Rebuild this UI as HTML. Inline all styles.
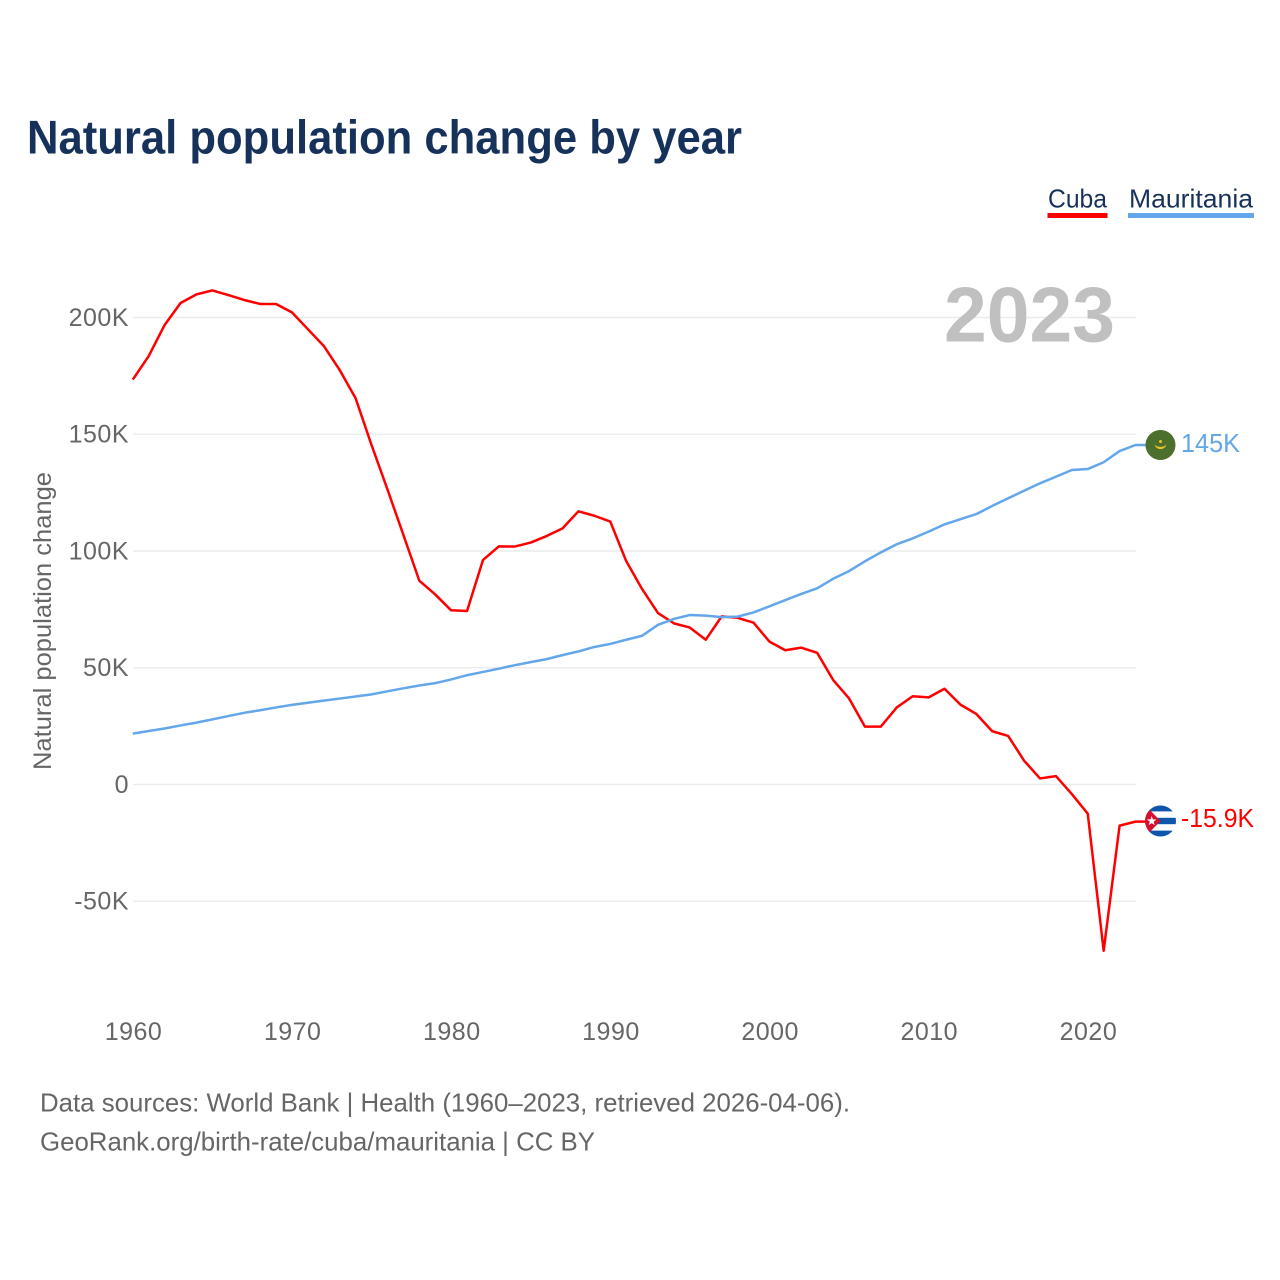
<!DOCTYPE html>
<html lang="en">
<head>
<meta charset="utf-8">
<title>Natural population change by year</title>
<style>
html,body{margin:0;padding:0;background:#fff;}
#chart{display:block;width:1280px;height:1280px;}
text{font-family:"Liberation Sans",sans-serif;}
</style>
</head>
<body>
<svg id="chart" xmlns="http://www.w3.org/2000/svg" width="1280" height="1280" viewBox="0 0 1280 1280">
  <rect x="0" y="0" width="1280" height="1280" fill="#ffffff"/>
  <text x="27" y="153.5" font-size="47" font-weight="700" fill="#17325a" textLength="715" lengthAdjust="spacingAndGlyphs">Natural population change by year</text>

  <g>
    <text x="1048" y="207.5" font-size="26" fill="#17325a" textLength="59" lengthAdjust="spacingAndGlyphs">Cuba</text>
    <rect x="1047.5" y="213" width="60" height="5" fill="#ff0000"/>
  </g>
  <g>
    <text x="1129" y="207.5" font-size="26" fill="#17325a" textLength="124" lengthAdjust="spacingAndGlyphs">Mauritania</text>
    <rect x="1128" y="213" width="126" height="5" fill="#63a6ea"/>
  </g>

  <g id="grid"></g>
  <g id="yticks"></g>
  <g id="xticks"></g>

  <text x="944" y="341.5" font-size="78" font-weight="700" fill="#c0c0c0" textLength="171" lengthAdjust="spacingAndGlyphs">2023</text>

  <text transform="translate(51 770) rotate(-90)" x="0" y="0" font-size="25" fill="#666666" textLength="298" lengthAdjust="spacingAndGlyphs">Natural population change</text>

  <g id="series"></g>

  <defs>
    <clipPath id="flag-clip-mr"><circle cx="1160.5" cy="445" r="15"/></clipPath>
    <clipPath id="flag-clip-cu"><circle cx="1160.5" cy="821" r="15.5"/></clipPath>
  </defs>

  <g clip-path="url(#flag-clip-mr)">
    <rect x="1145" y="430" width="31" height="30" fill="#4d6f2e"/>
    <path d="M1154.5 444.5 A6.2 6.2 0 0 0 1166.5 444.5 A7 5 0 0 1 1154.5 444.5 Z" fill="#e8c42c"/>
    <circle cx="1160.5" cy="441.5" r="1.5" fill="#e8c42c"/>
  </g>
  <g clip-path="url(#flag-clip-cu)">
    <rect x="1145" y="805" width="31" height="32" fill="#ffffff"/>
    <rect x="1145" y="805" width="31" height="6.4" fill="#0f55aa"/>
    <rect x="1145" y="817.8" width="31" height="6.4" fill="#0f55aa"/>
    <rect x="1145" y="830.6" width="31" height="6.4" fill="#0f55aa"/>
    <path d="M1145 805 L1160.5 821 L1145 837 Z" fill="#d5102f"/>
    <polygon points="1151.7,816 1152.9,819.4 1156.5,819.5 1153.6,821.7 1154.7,825.1 1151.7,823.1 1148.7,825.1 1149.8,821.7 1146.9,819.5 1150.5,819.4" fill="#ffffff"/>
  </g>

  <text x="1181" y="452" font-size="25.5" fill="#63a6ea" textLength="59" lengthAdjust="spacingAndGlyphs">145K</text>
  <text x="1181" y="827" font-size="25.5" fill="#ff0000" textLength="73" lengthAdjust="spacingAndGlyphs">-15.9K</text>

  <text x="40" y="1111.5" font-size="26" fill="#666666" textLength="810" lengthAdjust="spacingAndGlyphs">Data sources: World Bank | Health (1960–2023, retrieved 2026-04-06).</text>
  <text x="40" y="1150.5" font-size="26" fill="#666666" textLength="555" lengthAdjust="spacingAndGlyphs">GeoRank.org/birth-rate/cuba/mauritania | CC BY</text>
</svg>

<script>
const firstYear = 1960;
const cubaValues = [173.4,183.5,196.8,206.2,209.9,211.6,209.6,207.5,205.8,205.8,202.2,195,187.8,177.5,165.4,145.4,126.4,106.9,87.3,81.4,74.6,74.3,96.1,102,101.9,103.6,106.4,109.7,117,115.1,112.6,95.7,83.7,73.4,69,67.2,62,72,71.4,69.3,61.2,57.5,58.6,56.4,44.8,36.9,24.8,24.8,33,37.8,37.3,41,34.2,30.2,22.8,20.8,10.2,2.6,3.6,-4.1,-12.5,-71.2,-17.6,-15.9];
const mauritaniaValues = [21.8,22.9,24,25.3,26.5,27.9,29.3,30.7,31.8,33,34.1,35,35.9,36.8,37.7,38.6,39.9,41.2,42.4,43.4,45,46.8,48.2,49.6,51.1,52.4,53.7,55.4,57,58.9,60.2,62,63.7,68.4,70.9,72.6,72.3,71.7,71.9,73.7,76.3,79,81.6,84,88.1,91.4,95.6,99.4,102.9,105.4,108.3,111.4,113.6,115.8,119.3,122.6,125.8,129,131.8,134.7,135.1,138,142.8,145.4];
const yTickValues = [-50,0,50,100,150,200];
const yTickLabels = ["-50K","0","50K","100K","150K","200K"];
const xTickYears = [1960,1970,1980,1990,2000,2010,2020];

const NS = "http://www.w3.org/2000/svg";
function xScale(year){ return 132.8 + (year - 1960) * (1135.5 - 132.8) / 63; }
function yScale(v){ return 784.5 - v * 2.335; }
function make(tag, attrs, parent){
  const el = document.createElementNS(NS, tag);
  for (const k in attrs) el.setAttribute(k, attrs[k]);
  parent.appendChild(el);
  return el;
}

const grid = document.getElementById("grid");
const yticks = document.getElementById("yticks");
const xticks = document.getElementById("xticks");
const series = document.getElementById("series");

yTickValues.forEach(function(v, i){
  const line = make("line", {x1:133, x2:1136, y1:yScale(v), y2:yScale(v), stroke:"#ececec", "stroke-width":1.6}, grid);
  
  
  const t = make("text", {x:129, y:yScale(v)+8.4, "text-anchor":"end", "font-size":25, "letter-spacing":0.5, fill:"#666666"}, yticks);
  
  
  t.textContent = yTickLabels[i];
});

xTickYears.forEach(function(y){
  const t = make("text", {x:xScale(y)+0.7, y:1040, "text-anchor":"middle", "font-size":25, "letter-spacing":0.5, fill:"#666666"}, xticks);
  
  
  t.textContent = String(y);
});

function pathFor(values){
  return values.map(function(v, i){
    return (i ? "L" : "M") + xScale(firstYear + i).toFixed(2) + " " + yScale(v).toFixed(2);
  }).join(" ");
}
function endConnector(values){
  const v = values[values.length - 1];
  return " L1146 " + yScale(v).toFixed(2);
}

const cubaLine = make("path", {d:pathFor(cubaValues) + endConnector(cubaValues), fill:"none", stroke:"#ff0000", "stroke-width":2.5, "stroke-linejoin":"round"}, series);



const mauritaniaLine = make("path", {d:pathFor(mauritaniaValues) + endConnector(mauritaniaValues), fill:"none", stroke:"#63a6ea", "stroke-width":2.5, "stroke-linejoin":"round"}, series);


</script>
</body>
</html>
